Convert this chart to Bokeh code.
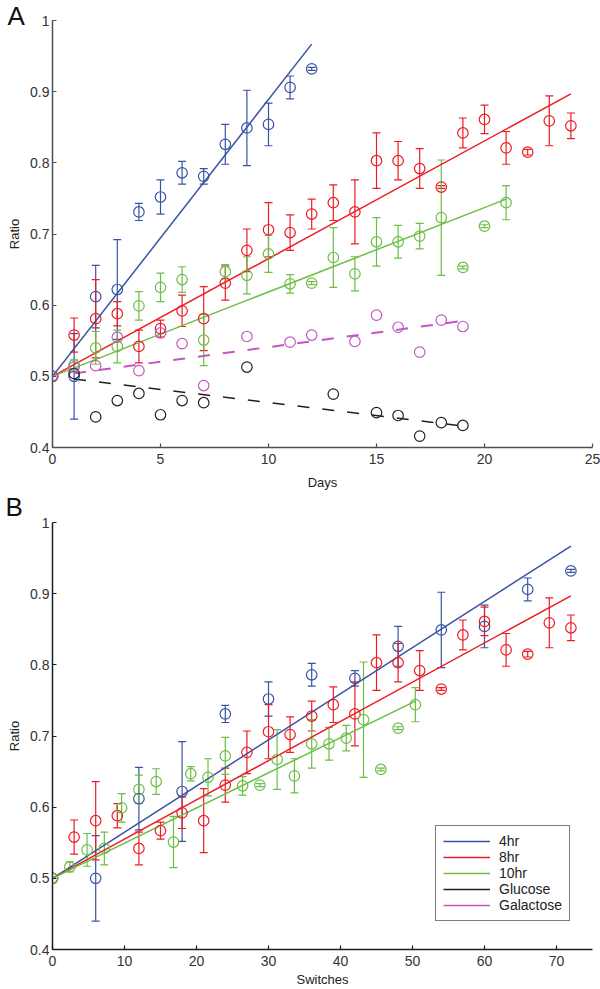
from bokeh.plotting import figure
from bokeh.models import (ColumnDataSource, Whisker, TeeHead, FixedTicker, Legend,
                          LegendItem, Title, CustomJSTickFormatter)
from bokeh.layouts import column
from bokeh.embed import file_html
from bokeh.resources import INLINE

FONT = "Liberation Sans"
NAN = float("nan")

# ---------------- data ----------------
series_names = ["4hr", "8hr", "10hr", "Glucose", "Galactose"]
colors = ["#3953a4", "#ed1c24", "#6cbe45", "#231f20", "#c456c4"]

days_4hr = [0, 1, 2, 3, 4, 5, 6, 7, 8, 9, 10, 11, 12]
ratio_4hr = [0.5, 0.500, 0.612, 0.622, 0.731, 0.752, 0.786, 0.781, 0.826, 0.849, 0.854, 0.906, 0.932]
err_4hr = [0, 0.060, 0.044, 0.070, 0.012, 0.024, 0.016, 0.011, 0.028, 0.053, 0.030, 0.016, 0.002]

days_8hr = [0, 1, 2, 3, 4, 5, 6, 7, 8, 9, 10, 11, 12, 13, 14, 15, 16, 17, 18, 19, 20, 21, 22, 23, 24]
ratio_8hr = [0.5, 0.558, 0.581, 0.588, 0.542, 0.567, 0.592, 0.581, 0.631, 0.677, 0.706, 0.702, 0.728,
             0.744, 0.731, 0.803, 0.803, 0.792, 0.766, 0.842, 0.861, 0.821, 0.815, 0.859, 0.852]
err_8hr = [0, 0.024, 0.055, 0.017, 0.023, 0.012, 0.022, 0.045, 0.024, 0.030, 0.038, 0.025, 0.021,
           0.025, 0.045, 0.039, 0.027, 0.028, 0.002, 0.021, 0.020, 0.023, 0.004, 0.035, 0.018]

days_10hr = [0, 1, 2, 3, 4, 5, 6, 7, 8, 9, 10, 11, 12, 13, 14, 15, 16, 17, 18, 19, 20, 21]
ratio_10hr = [0.5, 0.516, 0.540, 0.542, 0.599, 0.625, 0.636, 0.551, 0.647, 0.642, 0.672, 0.630,
              0.631, 0.667, 0.644, 0.689, 0.689, 0.697, 0.723, 0.653, 0.711, 0.744]
err_10hr = [0, 0.007, 0.023, 0.023, 0.020, 0.020, 0.018, 0.036, 0.010, 0.026, 0.026, 0.013,
            0.002, 0.042, 0.024, 0.034, 0.023, 0.018, 0.081, 0.002, 0.002, 0.024]

days_glu = [0, 1, 2, 3, 4, 5, 6, 7, 9, 13, 15, 16, 17, 18, 19]
ratio_glu = [0.5, 0.504, 0.443, 0.466, 0.476, 0.446, 0.466, 0.463, 0.513, 0.475, 0.449, 0.445,
             0.416, 0.435, 0.431]

days_gal = [0, 1, 2, 3, 4, 5, 6, 7, 9, 11, 12, 14, 15, 16, 17, 18, 19]
ratio_gal = [0.5, 0.513, 0.515, 0.555, 0.508, 0.561, 0.546, 0.487, 0.556, 0.548, 0.558, 0.549,
             0.586, 0.569, 0.534, 0.579, 0.570]

# switching period (hours) of the three switching series -> switches per day = 24 / period
periods_hr = [4, 8, 10]

# linear fits: ratio = intercept + slope * day
fit_intercept = 0.5
fit_slope = [0.0389, 0.01654, 0.01186, -0.00368, 0.0041]
fit_start = [0, 0, 0, 1, 1]
fit_end = [12, 24, 21, 19, 19]
fit_dash = ["solid", "solid", "solid", "12 13", "12 13"]
fit_width = [1.5, 1.5, 1.5, 1.5, 2.0]

x_ticks_A = [0, 5, 10, 15, 20, 25]
x_ticks_B = [0, 10, 20, 30, 40, 50, 60, 70]
y_ticks = [0.4, 0.5, 0.6, 0.7, 0.8, 0.9, 1.0]

switch_days = [days_4hr, days_8hr, days_10hr]
switch_ratio = [ratio_4hr, ratio_8hr, ratio_10hr]
switch_err = [err_4hr, err_8hr, err_10hr]


def style(p, xticks, xlabel, axis_color, xlabel_standoff):
    p.outline_line_color = None
    p.grid.visible = False
    p.xaxis.ticker = FixedTicker(ticks=xticks)
    p.yaxis.ticker = FixedTicker(ticks=y_ticks)
    p.yaxis.formatter = CustomJSTickFormatter(code="return String(Math.round(tick*10)/10);")
    for ax in (p.xaxis[0], p.yaxis[0]):
        ax.axis_line_color = axis_color
        ax.axis_line_width = 1.5
        ax.major_tick_line_color = axis_color
        ax.major_tick_line_width = 1.2
        ax.major_tick_in = 4
        ax.major_tick_out = 0
        ax.minor_tick_line_color = None
        ax.major_label_text_font = FONT
        ax.major_label_text_font_size = "14px"
        ax.major_label_text_color = "#333333"
        ax.axis_label_text_font = FONT
        ax.axis_label_text_font_size = "13px"
        ax.axis_label_text_font_style = "normal"
        ax.axis_label_text_color = "#222222"
    p.xaxis.major_label_standoff = 6
    p.yaxis.major_label_standoff = 3
    p.xaxis.axis_label = xlabel
    p.xaxis.axis_label_standoff = xlabel_standoff
    p.yaxis.axis_label = "Ratio"
    p.yaxis.axis_label_standoff = 5


def panel_title(text, offset, standoff):
    return Title(text=text, align="left", vertical_align="top", offset=offset,
                 standoff=standoff, text_font=FONT, text_font_size="26px",
                 text_font_style="normal", text_color="#111111")


def add_points(p, x, y, e, color):
    src = ColumnDataSource(dict(x=x, y=y))
    wx, lo, hi = [], [], []
    for xi, yi, ei in zip(x, y, e):
        if ei > 0:
            wx.append(xi)
            lo.append(yi - ei)
            hi.append(yi + ei)
    if wx:
        wsrc = ColumnDataSource(dict(x=wx, lo=lo, hi=hi))
        w = Whisker(source=wsrc, base="x", upper="hi", lower="lo", dimension="height",
                    line_color=color, line_width=1.2,
                    upper_head=TeeHead(size=8, line_color=color, line_width=1.2),
                    lower_head=TeeHead(size=8, line_color=color, line_width=1.2))
        p.add_layout(w)
    p.scatter("x", "y", source=src, marker="circle", size=10.5, fill_color=None,
              line_color=color, line_width=1.2)


def add_fit(p, i, scale=1.0):
    xs = [fit_start[i] * scale, fit_end[i] * scale]
    ys = [fit_intercept + fit_slope[i] * fit_start[i], fit_intercept + fit_slope[i] * fit_end[i]]
    return p.line(xs, ys, line_color=colors[i], line_width=fit_width[i], line_dash=fit_dash[i])


# ---------------- panel A ----------------
pA = figure(width=600, height=492, x_range=(0, 25), y_range=(0.4, 1.0),
            output_backend="svg", toolbar_location=None,
            min_border_left=48, min_border_right=8, min_border_top=20, min_border_bottom=44)
pA.title = panel_title("A", -45, -24)
style(pA, x_ticks_A, "Days", "#505050", 8)

for i in range(5):
    add_fit(pA, i)
for i in range(3):
    add_points(pA, switch_days[i], switch_ratio[i], switch_err[i], colors[i])
add_points(pA, days_glu, ratio_glu, [0] * len(days_glu), colors[3])
add_points(pA, days_gal, ratio_gal, [0] * len(days_gal), colors[4])

# ---------------- panel B ----------------
pB = figure(width=600, height=497, x_range=(0, 75), y_range=(0.4, 1.0),
            output_backend="svg", toolbar_location=None,
            min_border_left=52, min_border_right=5, min_border_top=30, min_border_bottom=38)
pB.title = panel_title("B", -47, -2)
style(pB, x_ticks_B, "Switches", "#1e1e1e", 3)

fit_r = []
for i in range(3):
    spd = 24 / periods_hr[i]
    fit_r.append(add_fit(pB, i, scale=spd))
for i in range(3):
    spd = 24 / periods_hr[i]
    add_points(pB, [d * spd for d in switch_days[i]], switch_ratio[i], switch_err[i], colors[i])

glu_leg = pB.line([NAN, NAN], [NAN, NAN], line_color=colors[3], line_width=1.5)
gal_leg = pB.line([NAN, NAN], [NAN, NAN], line_color=colors[4], line_width=1.5)
leg_r = fit_r + [glu_leg, gal_leg]

legend = Legend(items=[LegendItem(label=series_names[i], renderers=[leg_r[i]]) for i in range(5)],
                location=(383, 28), border_line_color="black", border_line_width=1,
                background_fill_color="white", background_fill_alpha=1,
                label_text_font=FONT, label_text_font_size="14px", label_text_color="#222222",
                glyph_width=47, glyph_height=16, label_height=16, spacing=0,
                padding=7, margin=0, label_standoff=9)
pB.add_layout(legend)

layout = column(pA, pB, spacing=0)
open("out.html", "w").write(file_html(layout, INLINE))
